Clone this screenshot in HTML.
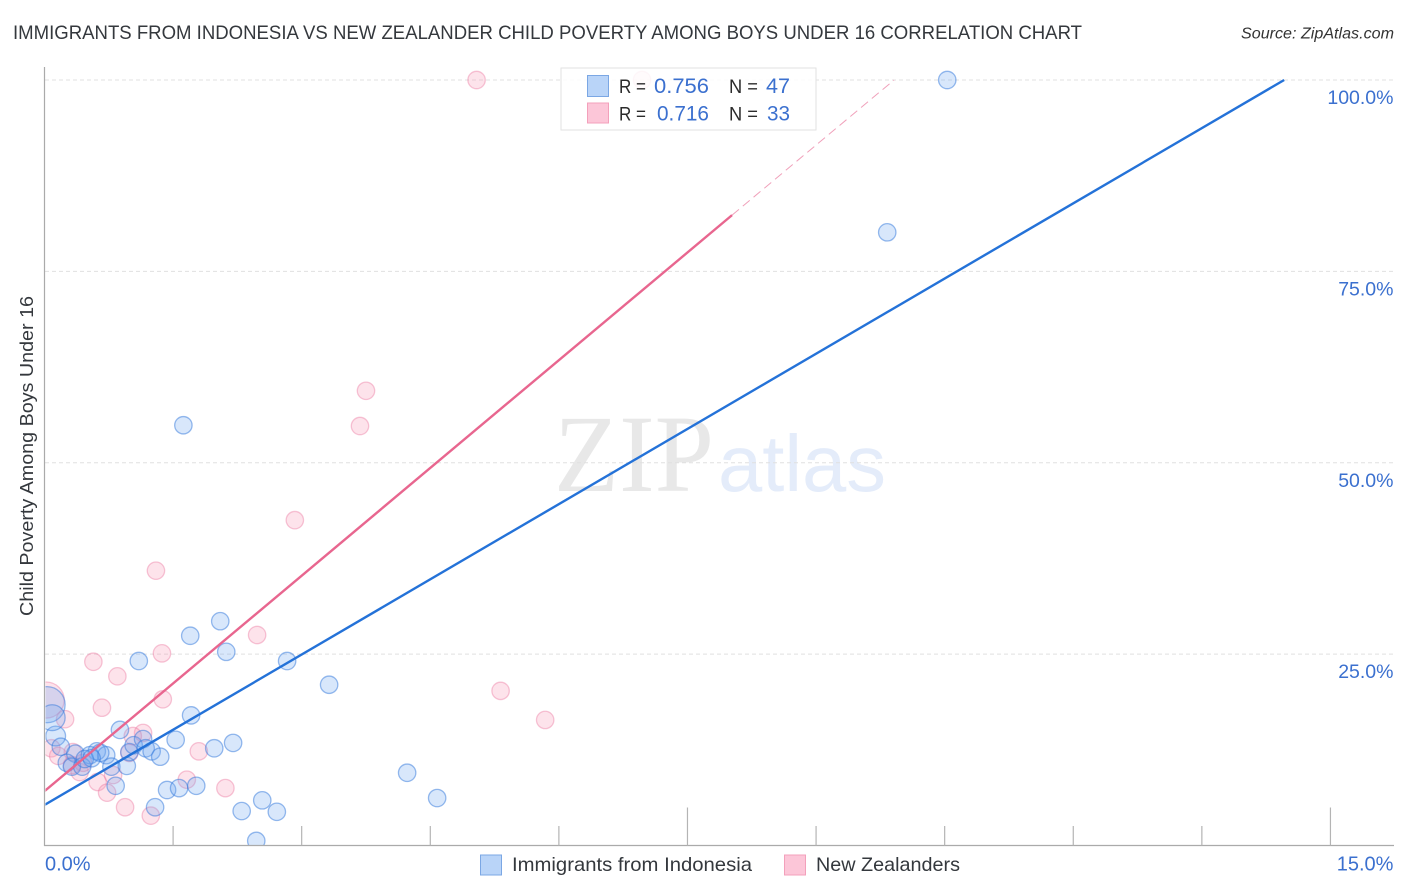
<!DOCTYPE html>
<html lang="en">
<head>
<meta charset="utf-8">
<title>Immigrants from Indonesia vs New Zealander Child Poverty Among Boys Under 16 Correlation Chart</title>
<style>
html,body{margin:0;padding:0;background:#fff;width:1406px;height:892px;overflow:hidden}
svg{display:block}
text{font-family:"Liberation Sans",sans-serif}
</style>
</head>
<body>
<svg id="chart" width="1406" height="892" viewBox="0 0 1406 892" xmlns="http://www.w3.org/2000/svg">
  <defs>
    <clipPath id="plot-clip"><rect x="45.5" y="60" width="1349" height="785"/></clipPath>
  </defs>
  <rect x="0" y="0" width="1406" height="892" fill="#ffffff"/>
  <text x="13" y="39" font-size="19.5" fill="#34383d" textLength="1069" lengthAdjust="spacingAndGlyphs">IMMIGRANTS FROM INDONESIA VS NEW ZEALANDER CHILD POVERTY AMONG BOYS UNDER 16 CORRELATION CHART</text>
  <text x="1241" y="38.5" font-size="15.5" font-style="italic" fill="#333333" textLength="153" lengthAdjust="spacingAndGlyphs">Source: ZipAtlas.com</text>

  <g>
    <text x="554" y="491" style="font-family:'Liberation Serif',serif" font-size="110" fill="#e8e8e8" textLength="160" lengthAdjust="spacingAndGlyphs">ZIP</text>
    <text x="718" y="491" font-size="80" fill="#e4ecfa" textLength="168" lengthAdjust="spacingAndGlyphs">atlas</text>
  </g>

  <g id="grid"></g>
  <g id="points" clip-path="url(#plot-clip)"></g>
  <g id="trends" clip-path="url(#plot-clip)"></g>
  <g id="axes"></g>

  <text transform="translate(33,616) rotate(-90)" x="0" y="0" font-size="18.5" fill="#34383d" textLength="320" lengthAdjust="spacingAndGlyphs">Child Poverty Among Boys Under 16</text>

  <g>
    <rect x="561" y="68" width="255" height="62" fill="#ffffff" fill-opacity="0.86" stroke="#e2e2e2" stroke-width="1"/>
    <rect x="587.5" y="75.5" width="21" height="21" fill="#b9d4f8" stroke="#7ba7e4" stroke-width="1"/>
    <rect x="587.5" y="103" width="21" height="20" fill="#fcc6d8" stroke="#f3a0bb" stroke-width="1"/>
    <text x="619" y="93" font-size="19" fill="#2b2b2b" textLength="27" lengthAdjust="spacingAndGlyphs">R =</text>
    <text x="654" y="93" font-size="21" fill="#3b70cf" textLength="55" lengthAdjust="spacingAndGlyphs">0.756</text>
    <text x="729" y="93" font-size="19" fill="#2b2b2b" textLength="29" lengthAdjust="spacingAndGlyphs">N =</text>
    <text x="766" y="93" font-size="21" fill="#3b70cf" textLength="24" lengthAdjust="spacingAndGlyphs">47</text>
    <text x="619" y="120.5" font-size="19" fill="#2b2b2b" textLength="27" lengthAdjust="spacingAndGlyphs">R =</text>
    <text x="657" y="120.5" font-size="21" fill="#3b70cf" textLength="52" lengthAdjust="spacingAndGlyphs">0.716</text>
    <text x="729" y="120.5" font-size="19" fill="#2b2b2b" textLength="29" lengthAdjust="spacingAndGlyphs">N =</text>
    <text x="767" y="120.5" font-size="21" fill="#3b70cf" textLength="23" lengthAdjust="spacingAndGlyphs">33</text>
  </g>

  <g>
    <rect x="480.5" y="855" width="21" height="20" fill="#b9d4f8" stroke="#7ba7e4" stroke-width="1"/>
    <text x="512" y="871" font-size="19.5" fill="#34383d" textLength="240" lengthAdjust="spacingAndGlyphs">Immigrants from Indonesia</text>
    <rect x="784.5" y="855" width="21" height="20" fill="#fcc6d8" stroke="#f3a0bb" stroke-width="1"/>
    <text x="816" y="871" font-size="19.5" fill="#34383d" textLength="144" lengthAdjust="spacingAndGlyphs">New Zealanders</text>
  </g>
</svg>
<script>
// Chart data (percent values)
var yTickValues = [25, 50, 75, 100];
var yTickLabels = ['25.0%', '50.0%', '75.0%', '100.0%'];
var xTickValues = [1.5, 3, 4.5, 6, 7.5, 9, 10.5, 12, 13.5, 15];
var xMajorTicks = [7.5, 15];
var xEndValues = [0, 15];
var xEndLabels = ['0.0%', '15.0%'];

var blueX = [10.53,9.83,1.62,2.05,1.70,2.12,1.10,2.83,3.32,1.71,0.88,0.13,0.03,0.09,2.20,1.53,1.98,0.19,0.36,0.61,0.53,0.72,0.26,0.32,0.44,0.47,0.78,0.96,0.99,1.04,1.15,1.18,1.25,1.35,0.83,1.43,1.57,1.77,1.29,4.23,4.58,2.54,2.30,2.71,2.47,0.65,0.55];
var blueY = [100,80.1,54.9,29.3,27.4,25.3,24.1,24.1,21.0,17.0,15.1,14.3,18.4,16.7,13.4,13.8,12.7,12.9,12.0,12.3,11.8,11.8,10.8,10.3,10.3,11.3,10.3,10.4,12.2,13.1,13.9,12.7,12.3,11.6,7.8,7.25,7.5,7.8,5.0,9.5,6.2,5.9,4.5,4.4,0.6,12.1,11.4];
var blueWeight = [1,1,1,1,1,1,1,1,1,1,1,1.3,4.3,2.2,1,1,1,1,1,1,1,1,1,1,1,1,1,1,1,1,1,1,1,1,1,1,1,1,1,1,1,1,1,1,1,1,1];

var pinkX = [5.04,6.97,3.75,3.68,2.92,1.30,2.48,1.37,0.57,0.85,0.67,1.38,5.32,5.84,0.24,0.02,1.80,1.15,1.03,1.66,2.11,0.62,0.73,0.94,1.24,0.80,0.41,0.99,0.08,0.16,0.33,0.32,0.45];
var pinkY = [100,100,59.4,54.8,42.5,35.9,27.5,25.1,24.0,22.1,18.0,19.1,20.2,16.4,16.5,19.0,12.3,14.7,14.3,8.6,7.5,8.3,6.9,5.0,3.9,9.2,9.6,12.1,12.7,11.7,12.2,10.5,10.8];
var pinkWeight = [1,1,1,1,1,1,1,1,1,1,1,1,1,1,1,4.3,1,1,1,1,1,1,1,1,1,1,1,1,1,1,1,1,1];

var blueTrendX = [0, 14.46];
var blueTrendY = [5.3, 100];
var pinkTrendX = [0, 8.02];
var pinkTrendY = [7.1, 82.35];
var pinkExtendX = [8.02, 9.91];
var pinkExtendY = [82.35, 100];

// Axis functions
function xScale(v) { return 44.5 + v * 85.73; }
function yScale(v) { return 845.5 - v * 7.655; }
function rScale(w) { return 8.7 * Math.sqrt(w); }

var NS = 'http://www.w3.org/2000/svg';
function make(tag, parent, attrs) {
  var el = document.createElementNS(NS, tag);
  for (var k in attrs) { el.setAttribute(k, attrs[k]); }
  parent.appendChild(el);
  return el;
}

var grid = document.getElementById('grid');
var axes = document.getElementById('axes');
var points = document.getElementById('points');
var trends = document.getElementById('trends');

yTickValues.forEach(function (v, i) {
  var line = make('line', grid, {x1: 45, x2: 1394, y1: yScale(v), y2: yScale(v), stroke: '#e0e0e0', 'stroke-width': 1, 'stroke-dasharray': '4 3'});
  
  
  var label = make('text', axes, {x: 1393.5, y: yScale(v) + 24, 'font-size': 19.5, fill: '#3b70cf', 'text-anchor': 'end'});
  label.textContent = yTickLabels[i];
  
  
});

var yAxis = make('line', axes, {x1: 44.5, x2: 44.5, y1: 67, y2: 846, stroke: '#aaaaaa', 'stroke-width': 1.2});


var xAxis = make('line', axes, {x1: 44, x2: 1394, y1: 845.5, y2: 845.5, stroke: '#aaaaaa', 'stroke-width': 1.2});



xTickValues.forEach(function (v) {
  var top = xMajorTicks.indexOf(v) >= 0 ? 807.5 : 826;
  var tick = make('line', axes, {x1: xScale(v), x2: xScale(v), y1: top, y2: 845.5, stroke: '#b4b4b4', 'stroke-width': 1.2});
  
  
});

xEndValues.forEach(function (v, i) {
  var label = make('text', axes, {x: i === 0 ? xScale(v) + 0.5 : xScale(v) + 63, y: 870.5, 'font-size': 20, fill: '#3b70cf', 'text-anchor': i === 0 ? 'start' : 'end'});
  label.textContent = xEndLabels[i];
  
  
});

pinkX.forEach(function (v, i) {
  var dot = make('circle', points, {cx: xScale(v), cy: yScale(pinkY[i]), r: rScale(pinkWeight[i]), fill: 'rgba(248,150,182,0.27)', stroke: 'rgba(236,120,160,0.42)', 'stroke-width': 1.3});
  
  
});

blueX.forEach(function (v, i) {
  var dot = make('circle', points, {cx: xScale(v), cy: yScale(blueY[i]), r: rScale(blueWeight[i]), fill: 'rgba(110,165,240,0.27)', stroke: 'rgba(50,120,220,0.5)', 'stroke-width': 1.3});
  
  
});

var pinkLine = make('line', trends, {x1: xScale(pinkTrendX[0]), y1: yScale(pinkTrendY[0]), x2: xScale(pinkTrendX[1]), y2: yScale(pinkTrendY[1]), stroke: '#e8668f', 'stroke-width': 2.4});



var pinkDash = make('line', trends, {x1: xScale(pinkExtendX[0]), y1: yScale(pinkExtendY[0]), x2: xScale(pinkExtendX[1]), y2: yScale(pinkExtendY[1]), stroke: '#f0a0ba', 'stroke-width': 1, 'stroke-dasharray': '9 5'});



var blueLine = make('line', trends, {x1: xScale(blueTrendX[0]), y1: yScale(blueTrendY[0]), x2: xScale(blueTrendX[1]), y2: yScale(blueTrendY[1]), stroke: '#2472d8', 'stroke-width': 2.4});


</script>
</body>
</html>
